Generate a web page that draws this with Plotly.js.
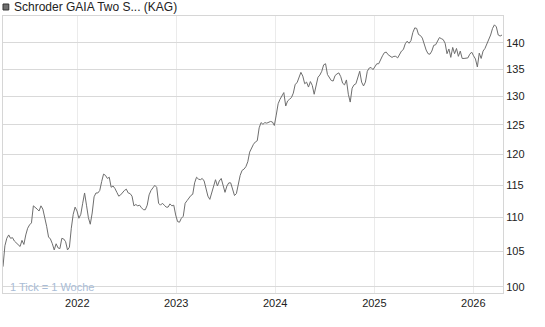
<!DOCTYPE html>
<html>
<head>
<meta charset="utf-8">
<script src="https://cdn.plot.ly/plotly-3.0.1.min.js"></script>
<style>html,body{margin:0;padding:0;background:#fff;}#chart{width:545px;height:327px;}</style>
</head>
<body>
<div id="chart"></div>
<script>
// Weekly closing values (1 Tick = 1 Woche), first week starting:
const startDate = '2021-04-02';
const weeklyValues = [
102.8,105.8,106.9,107.4,106.9,107.0,106.5,106.2,105.9,105.7,
106.6,106.0,107.4,108.4,108.9,109.2,111.8,111.6,111.3,111.0,
111.8,111.3,110.2,108.7,107.1,106.8,106.1,105.2,106.1,105.5,
105.4,106.9,106.8,106.4,105.2,105.6,108.4,110.5,111.6,111.0,
109.9,110.5,112.2,113.8,111.9,110.0,109.0,110.7,113.2,113.8,
113.8,114.2,115.6,116.8,116.6,116.1,116.3,114.7,114.9,114.5,
113.9,113.3,113.5,113.9,114.2,114.4,113.8,113.7,113.3,111.8,
112.0,111.8,111.9,111.5,111.2,111.2,111.9,113.5,114.2,114.6,
115.0,114.7,112.2,111.9,112.2,111.9,111.6,111.6,112.1,111.8,
111.9,110.4,109.4,109.3,109.9,110.2,112.2,112.6,113.1,113.4,
113.6,115.4,116.3,116.0,115.9,116.1,115.7,114.4,113.3,112.8,
113.8,114.9,115.9,114.9,115.7,116.1,114.9,113.9,114.9,115.4,
115.4,114.2,113.4,113.7,115.4,116.6,117.4,117.6,118.0,118.8,
120.4,121.2,121.7,122.1,122.3,124.5,125.4,125.1,125.4,125.3,
125.5,125.6,125.5,124.9,126.7,128.7,129.5,130.2,130.7,128.3,
129.2,129.5,129.8,130.6,132.2,132.5,133.4,134.4,133.7,132.3,
132.6,131.7,132.7,132.0,130.4,132.1,133.5,133.9,134.6,135.8,
136.0,134.0,133.3,132.9,132.8,133.8,134.1,134.3,133.6,132.4,
132.1,133.0,130.4,129.0,131.5,132.1,132.3,133.6,134.6,132.6,
131.9,132.6,134.6,135.2,135.3,134.9,135.6,136.0,136.0,136.9,
137.5,138.1,138.2,137.7,137.5,137.2,137.4,137.4,137.1,137.8,
138.4,138.7,139.8,140.3,139.9,140.4,142.0,142.9,142.8,141.6,
141.4,140.9,139.5,138.6,137.9,137.8,138.4,139.5,139.6,140.3,
141.0,140.8,140.6,139.9,137.9,138.8,137.2,139.1,137.9,138.9,
137.4,138.4,137.0,137.0,137.0,137.1,137.8,138.2,137.5,136.9,
135.4,138.0,137.0,138.4,138.9,139.7,140.6,141.5,142.8,143.5,
143.1,141.5,141.3,141.5
];
const yTickValues = [100, 105, 110, 115, 120, 125, 130, 135, 140];
const xTickDates = ['2022-01-01', '2023-01-01', '2024-01-01', '2025-01-01', '2026-01-01'];
const xTickLabels = ['2022', '2023', '2024', '2025', '2026'];
const seriesName = 'Schroder GAIA Two S... (KAG)';
const tickNote = '1 Tick = 1 Woche';

const dates = weeklyValues.map((_, i) => {
  const d = new Date(startDate + 'T00:00:00Z');
  d.setUTCDate(d.getUTCDate() + 7 * i);
  return d.toISOString().slice(0, 10);
});

const font = 'Liberation Sans, Arial, sans-serif';

const trace = {
  x: dates, y: weeklyValues, type: 'scatter', mode: 'lines',
  line: {color: '#6e6e6e', width: 1}, hoverinfo: 'skip', showlegend: false
};

const layout = {
  width: 545, height: 327,
  margin: {l: 3, r: 42, t: 16, b: 34, pad: 0},
  paper_bgcolor: '#ffffff', plot_bgcolor: '#ffffff',
  font: {family: font, size: 11, color: '#222'},
  showlegend: false,
  xaxis: {
    type: 'date',
    range: ['2021-04-02', '2026-04-20 14:00'],
    tickvals: xTickDates, ticktext: xTickLabels,
    showgrid: true, gridcolor: '#ebebeb', gridwidth: 1,
    showline: true, linecolor: '#d6d6d6', linewidth: 1, mirror: true,
    ticks: '', zeroline: false, fixedrange: true,
    tickfont: {family: font, size: 11, color: '#222'}
  },
  yaxis: {
    type: 'log', side: 'right',
    range: [Math.log10(99.135), Math.log10(145.26)],
    tickvals: yTickValues, ticktext: yTickValues.map(String),
    showgrid: true, gridcolor: '#d9d9d9', gridwidth: 1,
    showline: true, linecolor: '#d6d6d6', linewidth: 1, mirror: true,
    ticks: '', zeroline: false, fixedrange: true,
    tickfont: {family: font, size: 11, color: '#222'}
  },
  shapes: [{
    type: 'rect', xref: 'paper', yref: 'paper',
    x0: 0.0, x1: 0.0116, y0: 1.0217, y1: 1.0433,
    fillcolor: '#707070', line: {color: '#333', width: 1}
  }],
  annotations: [
    {
      text: seriesName, xref: 'paper', yref: 'paper',
      x: 0.018, y: 1.0325, xanchor: 'left', yanchor: 'middle',
      showarrow: false, font: {family: font, size: 12, color: '#222'}
    },
    {
      text: tickNote, xref: 'paper', yref: 'paper',
      x: 0.01, y: 0.0206, xanchor: 'left', yanchor: 'middle',
      showarrow: false, font: {family: font, size: 11, color: '#a9bcd6'}
    }
  ]
};

Plotly.newPlot('chart', [trace], layout, {displayModeBar: false, staticPlot: true});
</script>
</body>
</html>
